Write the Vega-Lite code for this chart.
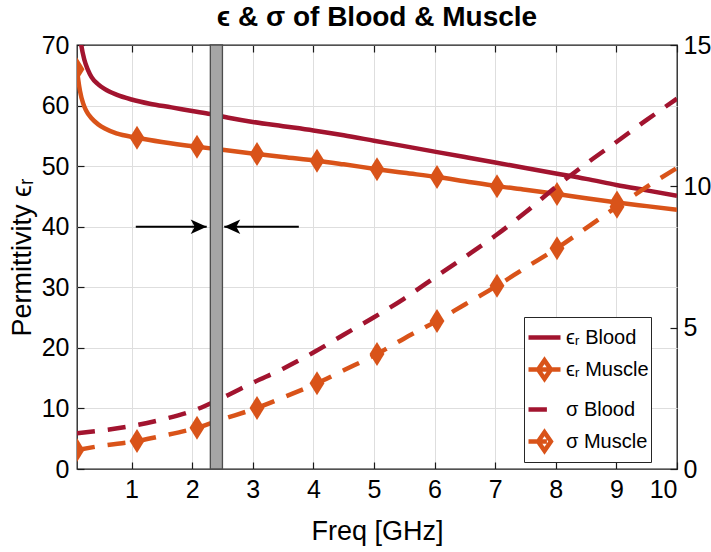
{
  "$schema": "https://vega.github.io/schema/vega-lite/v6.json",
  "width": 600,
  "height": 424,
  "autosize": {"type": "none"},
  "padding": {"left": 77, "top": 45, "right": 34, "bottom": 83},
  "background": "white",
  "title": {
    "text": "ϵ & σ of Blood & Muscle",
    "font": "Liberation Sans",
    "fontSize": 28,
    "fontWeight": "bold",
    "color": "black",
    "anchor": "middle",
    "offset": 1
  },
  "config": {
    "view": {"stroke": "#1a1a1a", "strokeWidth": 1.3},
    "font": "Liberation Sans",
    "axis": {
      "labelFont": "Liberation Sans",
      "labelFontSize": 25,
      "labelColor": "black",
      "titleFont": "Liberation Sans",
      "titleFontSize": 27,
      "titleFontWeight": "normal",
      "titleColor": "black",
      "domain": false,
      "tickColor": "#1a1a1a",
      "tickWidth": 1.2,
      "tickSize": -7,
      "labelPadding": 15,
      "gridColor": "#dedede",
      "gridWidth": 1
    },
    "legend": {"symbolStrokeWidth": 4.5}
  },
  "datasets": {
    "curves": [
      {"s": "ϵᵣ Blood", "f": 0.1, "v": 77.0},
      {"s": "ϵᵣ Blood", "f": 0.13, "v": 73.2},
      {"s": "ϵᵣ Blood", "f": 0.17, "v": 70.0},
      {"s": "ϵᵣ Blood", "f": 0.22, "v": 67.6},
      {"s": "ϵᵣ Blood", "f": 0.28, "v": 65.9},
      {"s": "ϵᵣ Blood", "f": 0.34, "v": 64.7},
      {"s": "ϵᵣ Blood", "f": 0.45, "v": 63.5},
      {"s": "ϵᵣ Blood", "f": 0.56, "v": 62.7},
      {"s": "ϵᵣ Blood", "f": 0.75, "v": 61.8},
      {"s": "ϵᵣ Blood", "f": 1.0, "v": 61.0},
      {"s": "ϵᵣ Blood", "f": 1.3, "v": 60.3},
      {"s": "ϵᵣ Blood", "f": 1.66, "v": 59.7},
      {"s": "ϵᵣ Blood", "f": 2.0, "v": 59.1},
      {"s": "ϵᵣ Blood", "f": 2.3, "v": 58.6},
      {"s": "ϵᵣ Blood", "f": 2.6, "v": 58.0},
      {"s": "ϵᵣ Blood", "f": 3.0, "v": 57.3},
      {"s": "ϵᵣ Blood", "f": 3.5, "v": 56.6},
      {"s": "ϵᵣ Blood", "f": 4.0, "v": 55.9},
      {"s": "ϵᵣ Blood", "f": 4.5, "v": 55.1},
      {"s": "ϵᵣ Blood", "f": 5.0, "v": 54.2},
      {"s": "ϵᵣ Blood", "f": 5.5, "v": 53.3},
      {"s": "ϵᵣ Blood", "f": 6.0, "v": 52.4},
      {"s": "ϵᵣ Blood", "f": 6.5, "v": 51.5},
      {"s": "ϵᵣ Blood", "f": 7.0, "v": 50.6},
      {"s": "ϵᵣ Blood", "f": 7.5, "v": 49.7},
      {"s": "ϵᵣ Blood", "f": 8.0, "v": 48.8},
      {"s": "ϵᵣ Blood", "f": 8.5, "v": 47.9},
      {"s": "ϵᵣ Blood", "f": 9.0, "v": 46.9},
      {"s": "ϵᵣ Blood", "f": 9.5, "v": 46.0},
      {"s": "ϵᵣ Blood", "f": 10.0, "v": 45.1},

      {"s": "ϵᵣ Muscle", "f": 0.1, "v": 66.0},
      {"s": "ϵᵣ Muscle", "f": 0.12, "v": 64.3},
      {"s": "ϵᵣ Muscle", "f": 0.15, "v": 62.4},
      {"s": "ϵᵣ Muscle", "f": 0.2, "v": 60.4},
      {"s": "ϵᵣ Muscle", "f": 0.25, "v": 59.2},
      {"s": "ϵᵣ Muscle", "f": 0.34, "v": 57.9},
      {"s": "ϵᵣ Muscle", "f": 0.45, "v": 56.9},
      {"s": "ϵᵣ Muscle", "f": 0.56, "v": 56.2},
      {"s": "ϵᵣ Muscle", "f": 0.75, "v": 55.4},
      {"s": "ϵᵣ Muscle", "f": 1.09, "v": 54.7},
      {"s": "ϵᵣ Muscle", "f": 1.5, "v": 54.0},
      {"s": "ϵᵣ Muscle", "f": 2.08, "v": 53.2},
      {"s": "ϵᵣ Muscle", "f": 2.5, "v": 52.7},
      {"s": "ϵᵣ Muscle", "f": 3.07, "v": 52.0},
      {"s": "ϵᵣ Muscle", "f": 3.5, "v": 51.5},
      {"s": "ϵᵣ Muscle", "f": 4.06, "v": 50.9},
      {"s": "ϵᵣ Muscle", "f": 4.5, "v": 50.3},
      {"s": "ϵᵣ Muscle", "f": 5.05, "v": 49.5},
      {"s": "ϵᵣ Muscle", "f": 5.5, "v": 48.9},
      {"s": "ϵᵣ Muscle", "f": 6.04, "v": 48.2},
      {"s": "ϵᵣ Muscle", "f": 6.5, "v": 47.5},
      {"s": "ϵᵣ Muscle", "f": 7.03, "v": 46.7},
      {"s": "ϵᵣ Muscle", "f": 7.5, "v": 46.1},
      {"s": "ϵᵣ Muscle", "f": 8.02, "v": 45.4},
      {"s": "ϵᵣ Muscle", "f": 8.5, "v": 44.7},
      {"s": "ϵᵣ Muscle", "f": 9.01, "v": 44.0},
      {"s": "ϵᵣ Muscle", "f": 9.5, "v": 43.4},
      {"s": "ϵᵣ Muscle", "f": 10.0, "v": 42.8},

      {"s": "σ Blood", "f": 0.1, "v": 1.26},
      {"s": "σ Blood", "f": 0.5, "v": 1.36},
      {"s": "σ Blood", "f": 1.0, "v": 1.52},
      {"s": "σ Blood", "f": 1.5, "v": 1.75},
      {"s": "σ Blood", "f": 2.0, "v": 2.05},
      {"s": "σ Blood", "f": 2.5, "v": 2.52},
      {"s": "σ Blood", "f": 3.0, "v": 3.05},
      {"s": "σ Blood", "f": 3.5, "v": 3.55},
      {"s": "σ Blood", "f": 4.0, "v": 4.12},
      {"s": "σ Blood", "f": 4.5, "v": 4.75},
      {"s": "σ Blood", "f": 5.0, "v": 5.37},
      {"s": "σ Blood", "f": 5.5, "v": 6.03},
      {"s": "σ Blood", "f": 6.0, "v": 6.77},
      {"s": "σ Blood", "f": 6.5, "v": 7.5},
      {"s": "σ Blood", "f": 7.0, "v": 8.25},
      {"s": "σ Blood", "f": 7.5, "v": 9.08},
      {"s": "σ Blood", "f": 8.0, "v": 9.98},
      {"s": "σ Blood", "f": 8.5, "v": 10.8},
      {"s": "σ Blood", "f": 9.0, "v": 11.57},
      {"s": "σ Blood", "f": 9.5, "v": 12.35},
      {"s": "σ Blood", "f": 10.0, "v": 13.1},

      {"s": "σ Muscle", "f": 0.1, "v": 0.67},
      {"s": "σ Muscle", "f": 0.5, "v": 0.82},
      {"s": "σ Muscle", "f": 1.09, "v": 0.99},
      {"s": "σ Muscle", "f": 1.5, "v": 1.17},
      {"s": "σ Muscle", "f": 2.08, "v": 1.46},
      {"s": "σ Muscle", "f": 2.5, "v": 1.76},
      {"s": "σ Muscle", "f": 3.07, "v": 2.16},
      {"s": "σ Muscle", "f": 3.5, "v": 2.53},
      {"s": "σ Muscle", "f": 4.06, "v": 3.03},
      {"s": "σ Muscle", "f": 4.5, "v": 3.49},
      {"s": "σ Muscle", "f": 5.05, "v": 4.07},
      {"s": "σ Muscle", "f": 5.5, "v": 4.62},
      {"s": "σ Muscle", "f": 6.04, "v": 5.24},
      {"s": "σ Muscle", "f": 6.5, "v": 5.82},
      {"s": "σ Muscle", "f": 7.03, "v": 6.48},
      {"s": "σ Muscle", "f": 7.5, "v": 7.12},
      {"s": "σ Muscle", "f": 8.02, "v": 7.81},
      {"s": "σ Muscle", "f": 8.5, "v": 8.52},
      {"s": "σ Muscle", "f": 9.01, "v": 9.28},
      {"s": "σ Muscle", "f": 9.5, "v": 9.98},
      {"s": "σ Muscle", "f": 10.0, "v": 10.65}
    ]
  },
  "layer": [
    {
      "data": {"name": "curves"},
      "encoding": {
        "x": {
          "field": "f", "type": "quantitative",
          "scale": {"domain": [0.1, 10], "nice": false, "zero": false},
          "axis": {
            "orient": "bottom", "title": "Freq [GHz]", "values": [1, 2, 3, 4, 5, 6, 7, 8, 9, 10],
            "grid": true, "titlePadding": 16,
            "gridColor": {"condition": {"test": "datum.value >= 10", "value": "transparent"}, "value": "#dedede"}
          }
        },
        "y": {
          "field": "v", "type": "quantitative",
          "scale": {"domain": [0, 70], "nice": false, "zero": false},
          "axis": {
            "orient": "left", "title": "Permittivity ϵᵣ", "values": [0, 10, 20, 30, 40, 50, 60, 70],
            "grid": true, "titlePadding": 5,
            "gridColor": {"condition": {"test": "datum.value <= 0 || datum.value >= 70", "value": "transparent"}, "value": "#dedede"}
          }
        }
      },
      "layer": [
        {
          "transform": [{"filter": {"field": "s", "equal": "ϵᵣ Blood"}}],
          "mark": {"type": "line", "color": "#A2142F", "strokeWidth": 4.5, "clip": true, "interpolate": "monotone"}
        },
        {
          "transform": [{"filter": {"field": "s", "equal": "ϵᵣ Muscle"}}],
          "mark": {"type": "line", "color": "#D95319", "strokeWidth": 4.5, "clip": true, "interpolate": "monotone"}
        },
        {
          "transform": [
            {"filter": {"field": "s", "equal": "ϵᵣ Muscle"}},
            {"filter": {"field": "f", "oneOf": [0.1, 1.09, 2.08, 3.07, 4.06, 5.05, 6.04, 7.03, 8.02, 9.01]}}
          ],
          "mark": {"type": "point", "filled": true, "color": "#D95319", "opacity": 1, "clip": true, "shape": "M0,-1L0.62,0L0,1L-0.62,0Z", "size": 576}
        }
      ]
    },
    {
      "data": {"name": "curves"},
      "encoding": {
        "x": {
          "field": "f", "type": "quantitative",
          "scale": {"domain": [0.1, 10], "nice": false, "zero": false},
          "axis": {"orient": "top", "title": null, "labels": false, "grid": false, "values": [1, 2, 3, 4, 5, 6, 7, 8, 9, 10]}
        },
        "y": {
          "field": "v", "type": "quantitative",
          "scale": {"domain": [0, 15], "nice": false, "zero": false},
          "axis": {"orient": "right", "title": null, "grid": false, "values": [0, 5, 10, 15], "labelPadding": 13}
        }
      },
      "layer": [
        {
          "transform": [{"filter": {"field": "s", "equal": "σ Blood"}}],
          "mark": {"type": "line", "color": "#A2142F", "strokeWidth": 4.5, "strokeDash": [18, 13], "clip": true, "interpolate": "monotone"}
        },
        {
          "transform": [{"filter": {"field": "s", "equal": "σ Muscle"}}],
          "mark": {"type": "line", "color": "#D95319", "strokeWidth": 4.5, "strokeDash": [18, 13], "clip": true, "interpolate": "monotone"}
        },
        {
          "transform": [
            {"filter": {"field": "s", "equal": "σ Muscle"}},
            {"filter": {"field": "f", "oneOf": [0.1, 1.09, 2.08, 3.07, 4.06, 5.05, 6.04, 7.03, 8.02, 9.01]}}
          ],
          "mark": {"type": "point", "filled": true, "color": "#D95319", "opacity": 1, "clip": true, "shape": "M0,-1L0.62,0L0,1L-0.62,0Z", "size": 576}
        }
      ]
    },
    {
      "layer": [
        {
          "data": {"values": [{"lo": 2.3, "hi": 2.5}]},
          "mark": {"type": "rect", "fill": "#a6a6a6", "stroke": "#4d4d4d", "strokeWidth": 1.3},
          "encoding": {
            "x": {"field": "lo", "type": "quantitative", "scale": {"domain": [0.1, 10], "nice": false, "zero": false}, "axis": null},
            "x2": {"field": "hi"}
          }
        },
        {
          "data": {"values": [{"tail": 1.07, "tip": 2.24, "y": 40, "dir": "right"}, {"tail": 3.76, "tip": 2.53, "y": 40, "dir": "left"}]},
          "encoding": {
            "y": {"field": "y", "type": "quantitative", "scale": {"domain": [0, 70], "nice": false, "zero": false}, "axis": null}
          },
          "layer": [
            {
              "mark": {"type": "rule", "color": "black", "strokeWidth": 2},
              "encoding": {
                "x": {"field": "tail", "type": "quantitative", "scale": {"domain": [0.1, 10], "nice": false, "zero": false}, "axis": null},
                "x2": {"field": "tip"}
              }
            },
            {
              "transform": [{"filter": {"field": "dir", "equal": "right"}}],
              "mark": {"type": "point", "filled": true, "color": "black", "opacity": 1, "shape": "M0,0L-2,-0.9L-1.5,0L-2,0.9Z", "size": 256},
              "encoding": {"x": {"field": "tip", "type": "quantitative", "axis": null}}
            },
            {
              "transform": [{"filter": {"field": "dir", "equal": "left"}}],
              "mark": {"type": "point", "filled": true, "color": "black", "opacity": 1, "shape": "M0,0L2,-0.9L1.5,0L2,0.9Z", "size": 256},
              "encoding": {"x": {"field": "tip", "type": "quantitative", "axis": null}}
            }
          ]
        }
      ]
    },
    {
      "data": {"name": "curves"},
      "transform": [{"filter": "false"}],
      "mark": {"type": "point", "filled": false, "opacity": 1, "strokeWidth": 4.5},
      "encoding": {
        "color": {
          "field": "s", "type": "nominal",
          "scale": {"domain": ["ϵᵣ Blood", "ϵᵣ Muscle", "σ Blood", "σ Muscle"], "range": ["#A2142F", "#D95319", "#A2142F", "#D95319"]},
          "legend": {
            "title": null, "orient": "none", "legendX": 447, "legendY": 272,
            "strokeColor": "#262626", "fillColor": "white", "padding": 2, "rowPadding": 3,
            "symbolSize": 1024, "symbolStrokeWidth": 4.5, "labelFont": "Liberation Sans",
            "labelFontSize": 20, "labelColor": "black", "labelOffset": 3
          }
        },
        "shape": {
          "field": "s", "type": "nominal",
          "scale": {
            "domain": ["ϵᵣ Blood", "ϵᵣ Muscle", "σ Blood", "σ Muscle"],
            "range": [
              "M-1,0L1,0",
              "M-1,0L1,0M0,-0.58L0.4,0L0,0.58L-0.4,0Z",
              "M-1,0L0.15,0",
              "M-1,0L0.15,0M0,-0.58L0.4,0L0,0.58L-0.4,0Z"
            ]
          },
          "legend": {
            "title": null, "orient": "none", "legendX": 447, "legendY": 272,
            "strokeColor": "#262626", "fillColor": "white", "padding": 2, "rowPadding": 3,
            "symbolSize": 1024, "symbolStrokeWidth": 4.5, "labelFont": "Liberation Sans",
            "labelFontSize": 20, "labelColor": "black", "labelOffset": 3
          }
        }
      }
    }
  ],
  "resolve": {
    "scale": {"y": "independent"},
    "axis": {"x": "independent", "y": "independent"}
  }
}
